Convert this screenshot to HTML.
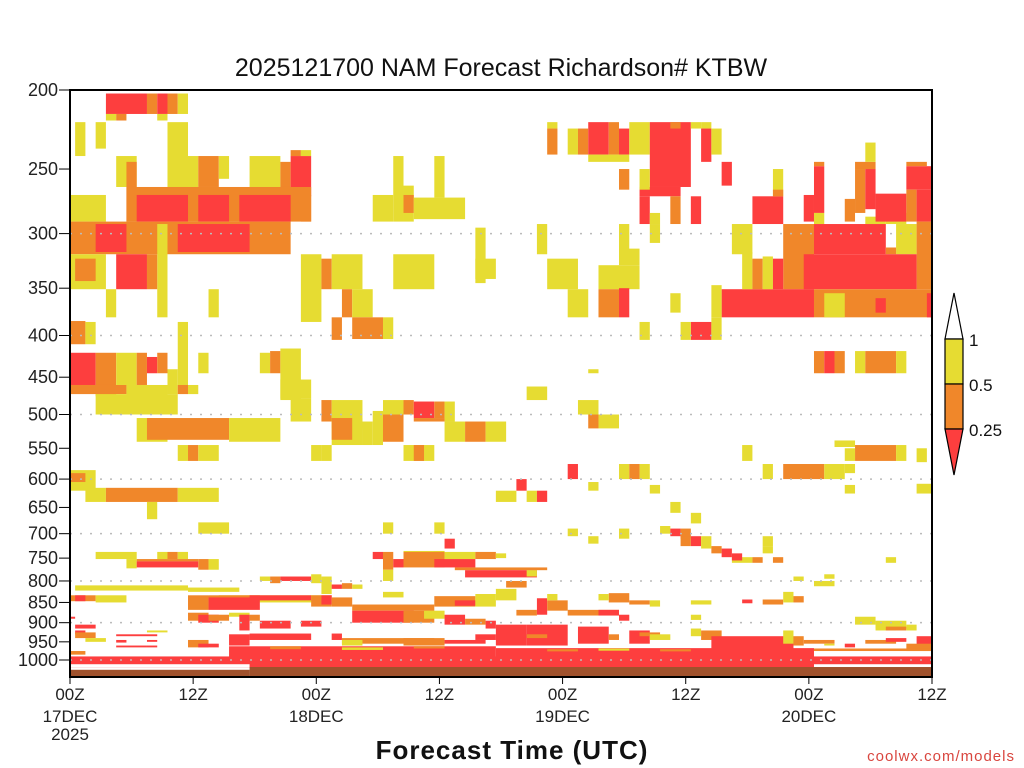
<!DOCTYPE html>
<html><head><meta charset="utf-8"><style>
html,body{margin:0;padding:0;background:#fff;}
svg{display:block;font-family:"Liberation Sans",sans-serif;}
</style></head><body>
<svg id="chart" width="1024" height="768" viewBox="0 0 1024 768" xmlns="http://www.w3.org/2000/svg">
<rect width="1024" height="768" fill="#fff"/>
<text x="501" y="76" font-size="25" text-anchor="middle" fill="#111">2025121700 NAM Forecast Richardson# KTBW</text>
<g id="cells"></g>
<g id="grid"></g>
<g id="yaxis"></g>
<g id="xaxis"></g>
<rect x="70" y="90" width="862" height="587" fill="none" stroke="#000" stroke-width="2"/>
<text x="512" y="759" font-size="26" font-weight="bold" text-anchor="middle" fill="#111" letter-spacing="1">Forecast Time (UTC)</text>
<text x="1015" y="761" font-size="15" text-anchor="end" fill="#d9463f" letter-spacing="1">coolwx.com/models</text>
<g id="legend"></g>
</svg>
<script>
// ---- data ----
const hours = 84;
const pressureTicks = [200,250,300,350,400,450,500,550,600,650,700,750,800,850,900,950,1000];
const gridLevels = [300,400,500,600,700,800,900,1000];
const timeTicks = [0,12,24,36,48,60,72,84];
const timeLabels = ["00Z","12Z","00Z","12Z","00Z","12Z","00Z","12Z"];
const dateLabels = ["17DEC\n2025","","18DEC","","19DEC","","20DEC",""];
const binLabels = ["1","0.5","0.25"];
const binColors = ["#ffffff","#e6dc32","#f0872a","#fd3e3e"];
// [firstHour, lastHour, pTop, pBottom, category(1=0.5-1, 2=0.25-0.5, 3=<0.25, 0=blank)]
const rects = [
[4,7,202,214,3],[8,8,202,214,2],[9,9,202,214,3],[10,10,202,214,2],[11,11,202,214,1],[4,4,214,218,1],[5,5,214,218,2],[9,9,214,218,1],
[1,1,219,241,1],[3,3,219,236,1],[10,11,219,263,1],
[5,6,241,263,1],[6,6,245,290,2],[10,12,241,263,1],[13,14,241,263,2],[15,15,241,257,1],[18,20,241,263,1],[21,21,245,290,2],[22,23,241,270,3],[22,22,237,241,2],[23,23,237,241,1],
[0,3,269,290,1],[6,23,263,290,2],[7,11,269,290,3],[13,15,269,290,3],[17,21,269,290,3],[23,23,269,290,2],
[0,21,290,318,2],[3,5,292,316,3],[11,17,292,316,3],[9,9,292,380,1],
[0,3,318,351,1],[1,2,322,343,2],[5,7,318,351,3],[8,8,318,351,2],[4,4,351,380,1],[14,14,351,380,1],
[23,24,318,385,1],[25,25,322,351,2],[26,28,318,351,1],[27,27,351,380,2],[28,29,351,380,1],[26,26,380,405,2],[28,30,380,404,2],[31,31,380,404,1],
[32,35,318,351,1],[40,40,295,345,1],[40,41,322,341,1],
[32,32,241,290,1],[33,33,262,290,1],[33,33,269,283,2],[34,38,271,288,1],[36,36,241,271,1],[30,31,269,290,1],
[47,47,219,223,1],[47,47,223,240,2],[49,49,223,240,1],[50,50,223,240,2],[51,52,219,240,3],[53,53,219,240,2],[54,54,223,240,3],[55,56,219,240,1],[51,54,240,245,1],
[57,60,219,263,3],[56,59,263,270,3],[56,56,270,292,3],[59,59,219,223,2],[61,61,219,223,1],[62,62,219,223,1],[62,62,223,245,3],[63,63,223,240,1],
[54,54,250,265,2],[56,56,250,265,1],[64,64,245,262,3],[69,69,250,270,1],[57,57,283,292,1],[59,59,270,292,2],[61,61,270,292,3],
[67,69,270,292,3],[69,69,265,270,2],[73,73,248,283,3],[73,73,245,248,2],[72,72,269,290,3],[73,73,283,292,1],
[77,77,250,283,2],[78,78,250,280,3],[77,78,245,250,2],[78,78,232,245,1],[78,79,286,292,1],[80,81,283,292,1],[79,81,268,290,3],[76,76,272,290,2],
[82,84,248,265,3],[82,83,245,248,2],[82,82,265,290,2],[83,84,265,290,3],
[70,72,292,351,2],[73,79,292,318,3],[81,82,292,318,1],[80,80,312,318,2],[83,84,290,351,2],[72,82,318,351,3],
[64,72,351,380,3],[73,84,351,380,2],[74,75,355,380,1],[79,79,360,375,3],[84,84,355,380,3],
[65,66,292,318,1],[66,66,316,351,1],[67,67,322,351,2],[68,68,320,351,1],[69,69,322,351,3],[63,63,347,380,1],
[47,49,322,351,1],[49,50,351,380,1],[52,55,328,351,1],[54,55,313,328,1],[52,53,351,380,2],[54,54,350,380,3],[46,46,292,318,1],[54,54,292,318,1],[57,57,292,308,1],[59,59,355,375,1],
[61,62,385,405,3],[60,60,385,405,1],[63,63,380,405,1],[56,56,385,405,1],
[73,73,418,445,2],[74,74,418,445,3],[75,75,418,445,2],[77,77,418,445,1],[78,80,418,445,2],[81,81,418,445,1],
[45,46,462,480,1],[51,51,440,445,1],
[0,1,384,410,2],[2,2,385,410,1],[0,2,420,460,3],[3,4,420,475,2],[0,5,460,472,2],[5,6,420,460,1],[7,7,420,460,2],[8,8,425,445,3],[9,9,420,445,2],[11,11,385,460,1],[10,10,440,472,1],[6,9,460,480,1],[11,11,460,472,2],[12,12,460,472,1],[13,13,420,445,1],
[3,10,472,500,1],[19,19,420,445,1],[20,20,418,445,2],[21,22,415,480,1],[21,23,453,478,1],[22,23,478,510,1],
[25,25,480,510,2],[26,28,480,520,1],[26,28,505,545,1],[26,27,505,537,2],[29,29,510,545,1],[30,30,495,545,1],[31,32,480,500,1],[31,32,500,540,2],[33,33,480,500,2],[34,35,482,505,3],[36,36,482,505,2],[37,37,482,510,1],[34,36,505,510,2],
[37,38,510,540,1],[39,40,510,540,2],[41,42,510,540,1],[33,35,545,570,1],[34,34,545,570,2],[25,25,545,570,1],
[7,9,505,540,1],[8,15,505,537,2],[16,20,505,540,1],[11,11,545,570,1],[12,12,545,570,2],[13,14,545,570,1],[24,24,545,570,1],
[51,51,500,520,2],[52,53,500,520,1],[50,51,480,500,1],[66,66,545,570,1],[75,76,538,548,1],[77,80,545,570,2],[76,76,550,570,1],[81,81,545,570,1],[83,83,550,572,1],[68,68,575,600,1],
[70,73,575,600,2],[74,75,575,600,1],[76,76,575,590,1],[76,76,610,625,1],[83,84,608,625,1],
[0,2,585,620,1],[0,1,590,605,2],[2,3,615,640,1],[4,10,615,640,2],[11,14,615,640,1],[8,8,640,672,1],[13,15,678,700,1],[31,31,678,700,1],[36,36,678,700,1],[37,37,710,730,3],
[42,43,620,640,1],[44,44,600,620,3],[45,45,620,640,1],[46,46,620,640,3],[49,49,575,600,3],[51,51,605,620,1],[54,54,575,600,1],[55,55,575,600,2],[56,56,575,600,1],[57,57,610,625,1],
[59,59,640,660,1],[61,61,660,680,1],[58,58,685,700,1],[54,54,690,710,1],[49,49,690,705,1],[51,51,705,720,1],
[59,59,690,705,3],[60,60,690,710,2],[61,61,705,725,3],[60,60,705,725,2],[62,62,705,730,1],[63,63,725,740,2],[64,64,730,748,3],[65,66,748,760,1],[65,65,740,755,3],[67,67,748,760,2],[69,69,748,760,2],[68,68,705,725,1],[68,68,725,740,1],[80,80,748,760,1],[71,71,790,800,1],[74,74,785,795,1],
[3,6,737,752,1],[9,9,737,752,1],[10,10,737,752,2],[11,11,737,752,1],[6,6,752,772,1],[7,12,752,757,2],[7,12,757,770,3],[13,13,752,775,2],[14,14,752,775,1],
[33,36,735,740,1],[30,30,737,752,3],[31,31,737,775,2],[32,32,752,770,3],[33,36,737,770,2],[36,36,737,752,2],[37,39,737,752,1],[36,39,752,770,3],[40,41,737,752,2],[42,42,740,750,1],
[38,46,770,776,2],[39,45,776,792,3],[45,45,776,790,1],[19,19,790,800,1],[20,20,790,805,2],[21,23,790,800,3],[24,24,785,805,1],[25,25,790,830,1],[26,26,808,818,3],[27,27,805,818,2],[28,28,808,818,1],[31,31,775,800,1],
[1,11,810,822,1],[12,16,815,825,1],[0,2,833,847,2],[1,1,833,847,3],[3,5,833,850,1],[15,24,833,850,1],[19,19,838,845,2],
[12,13,833,868,2],[14,18,835,868,3],[14,18,833,838,2],[18,23,833,845,3],[24,25,833,860,2],[25,25,833,855,3],[26,27,838,860,2],[28,35,855,870,2],[36,39,835,860,2],[38,39,845,858,3],[40,41,830,860,1],[31,32,825,838,1],
[43,44,800,815,2],[42,43,818,845,1],[44,45,868,882,2],[46,46,840,880,3],[47,48,845,870,2],[47,47,830,845,1],[49,53,868,882,2],[52,53,868,882,3],[53,54,828,850,2],[52,52,830,845,1],[55,56,845,855,2],[57,57,845,860,1],[54,54,880,895,3],
[61,62,845,855,1],[66,66,843,852,3],[68,69,843,855,2],[70,70,825,850,1],[71,71,835,850,2],[73,74,800,812,1],[61,61,880,893,1],
[77,78,885,905,1],[79,81,895,915,1],[79,80,905,920,1],[80,81,910,920,2],[82,82,905,920,1],
[28,33,870,900,3],[33,35,870,900,2],[35,36,870,890,1],[12,13,875,895,2],[13,14,880,900,3],[14,15,880,895,2],[16,17,875,885,1],[17,17,880,920,3],[18,18,880,895,2],[19,21,895,915,3],[23,24,895,910,3],[37,38,880,905,3],[39,40,890,905,2],[41,41,895,915,3],
[0,0,885,890,3],[1,2,905,915,3],[1,1,920,930,3],[1,2,925,940,2],[2,3,940,950,1],[5,8,930,935,3],[5,5,945,952,3],[8,8,945,950,3],[5,7,960,965,3],[8,8,960,965,3],[8,9,920,925,1],
[18,23,928,945,3],[16,17,930,960,3],[12,13,945,965,2],[13,14,955,965,3],[26,26,928,945,3],[27,35,940,955,2],[27,28,945,960,1],[33,36,940,960,2],[37,40,945,955,3],[40,41,930,945,3],
[42,44,905,960,3],[45,48,905,960,3],[45,46,930,940,2],[50,52,910,955,3],[53,53,930,945,2],[55,56,920,955,3],[56,57,925,935,2],[57,58,930,945,1],[61,61,915,935,1],[62,63,920,945,2],
[63,70,935,990,3],[70,70,920,955,1],[71,71,935,960,2],[72,74,945,955,2],[74,74,955,960,1],[76,76,955,965,3],[78,80,945,955,2],[80,81,940,950,3],[83,84,935,960,3],[82,84,955,975,2],
[16,41,962,995,3],[42,72,967,995,3],[73,84,968,975,2],[0,1,975,985,2],
[20,22,962,970,2],[27,30,965,972,1],[34,36,962,968,2],[47,49,970,976,2],[52,54,968,974,1],[58,60,970,976,2],
[0,84,990,1022,3],[0,17,1012,1022,0],[73,84,1012,1028,0]
];
const groundTop = [[0,17,1028],[18,84,1020]];

// ---- scales ----
const X0=70, X1=932, YT=90, YB=677;
const xPos = h => X0 + (X1-X0)*h/hours;
const yPos = p => YT + 570*Math.log(p/200)/Math.log(5);
const NS="http://www.w3.org/2000/svg";
function mk(tag, attrs){const e=document.createElementNS(NS,tag);for(const k in attrs)e.setAttribute(k,attrs[k]);return e;}

const gCells=document.getElementById('cells');
rects.forEach(r=>{
  const x0=Math.max(X0,xPos(r[0]-0.5)), x1=Math.min(X1,xPos(r[1]+0.5));
  const y0=Math.max(YT,yPos(r[2])), y1=Math.min(YB,yPos(r[3]));
  const e=mk('rect',{x:x0.toFixed(2),y:y0.toFixed(2),width:(x1-x0).toFixed(2),height:Math.max(0,y1-y0).toFixed(2),fill:binColors[r[4]]});
  
  
  gCells.appendChild(e);
});
groundTop.forEach(g=>{
  const x0=Math.max(X0,xPos(g[0]-0.5)), x1=Math.min(X1,xPos(g[1]+0.5));
  const y0=yPos(g[2]);
  const e=mk('rect',{x:x0,y:y0,width:x1-x0,height:YB-y0,fill:"#a0522d"});
  
  
  gCells.appendChild(e);
});
const gGrid=document.getElementById('grid');
gridLevels.forEach(p=>{
  const y=yPos(p);
  const e=mk('line',{x1:X0,x2:X1,y1:y,y2:y,stroke:"#bbbbbb","stroke-width":1.5,"stroke-dasharray":"2 8"});
  
  
  gGrid.appendChild(e);
});
const gY=document.getElementById('yaxis');
pressureTicks.forEach(p=>{
  const y=yPos(p);
  const t=mk('line',{x1:59,x2:70,y1:y,y2:y,stroke:"#000","stroke-width":1});
  
  
  gY.appendChild(t);
  const l=mk('text',{x:58,y:y+6,"font-size":18,"text-anchor":"end",fill:"#222"});
  l.textContent=p;
  
  
  gY.appendChild(l);
});
const gX=document.getElementById('xaxis');
timeTicks.forEach((h,i)=>{
  const x=xPos(h);
  const t=mk('line',{x1:x,x2:x,y1:677,y2:684,stroke:"#000","stroke-width":1});
  
  
  gX.appendChild(t);
  const l=mk('text',{x:x,y:700,"font-size":17,"text-anchor":"middle",fill:"#222"});
  l.textContent=timeLabels[i];
  
  
  gX.appendChild(l);
  dateLabels[i].split("\n").forEach((s,j)=>{
    if(!s)return;
    const d=mk('text',{x:x,y:722+j*18,"font-size":17,"text-anchor":"middle",fill:"#222"});
    d.textContent=s;
    
    
    gX.appendChild(d);
  });
});
// legend
const gL=document.getElementById('legend');
const lx0=945,lx1=963,lyTop=293,ly1=339,ly05=384,ly025=429,lyBot=475;
function addL(el,name){gL.appendChild(el);}
addL(mk('polygon',{points:`${lx0},${ly1} ${(lx0+lx1)/2},${lyTop} ${lx1},${ly1}`,fill:"#fff",stroke:"#000","stroke-width":1.2}),'legend-top-arrow');
addL(mk('rect',{x:lx0,y:ly1,width:lx1-lx0,height:ly05-ly1,fill:binColors[1],stroke:"#000","stroke-width":1.2}),'legend-yellow');
addL(mk('rect',{x:lx0,y:ly05,width:lx1-lx0,height:ly025-ly05,fill:binColors[2],stroke:"#000","stroke-width":1.2}),'legend-orange');
addL(mk('polygon',{points:`${lx0},${ly025} ${(lx0+lx1)/2},${lyBot} ${lx1},${ly025}`,fill:binColors[3],stroke:"#000","stroke-width":1.2}),'legend-bottom-arrow');
[ly1,ly05,ly025].forEach((y,i)=>{
  const t=mk('text',{x:969,y:y+7,"font-size":17,fill:"#111"});
  t.textContent=binLabels[i];
  addL(t,'legend-label');
});
</script>
</body></html>
